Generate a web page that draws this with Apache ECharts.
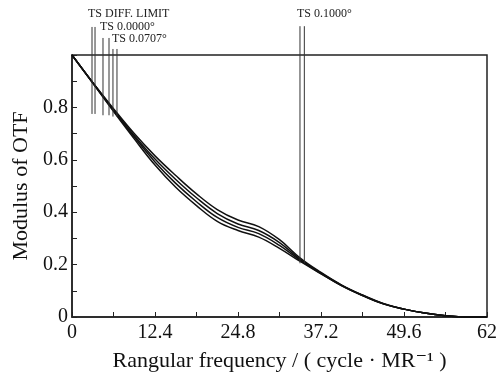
<!DOCTYPE html>
<html>
<head>
<meta charset="utf-8">
<script src="https://cdn.jsdelivr.net/npm/echarts@6/dist/echarts.min.js"></script>
<style>
html, body { margin: 0; padding: 0; background: #fff; }
#chart { width: 497px; height: 374px; }
</style>
</head>
<body>
<div id="chart"></div>
<script>
// spatial frequency samples (cycle / MR)
var freq = [0, 3.1, 6.2, 9.3, 12.4, 15.5, 18.6, 21.7, 24.8, 27.9, 31, 34.1, 37.2, 40.3, 43.4, 46.5, 49.6, 52.7, 55.8, 58.9, 62];
// OTF modulus, four curves (top to bottom)
var otfA = [1, 0.895, 0.795, 0.700, 0.615, 0.540, 0.470, 0.410, 0.370, 0.345, 0.295, 0.225, 0.170, 0.122, 0.084, 0.052, 0.030, 0.015, 0.005, 0, 0];
var otfB = [1, 0.894, 0.792, 0.693, 0.603, 0.525, 0.455, 0.395, 0.355, 0.330, 0.284, 0.220, 0.168, 0.121, 0.083, 0.051, 0.030, 0.015, 0.005, 0, 0];
var otfC = [1, 0.894, 0.788, 0.687, 0.592, 0.510, 0.440, 0.380, 0.342, 0.318, 0.273, 0.216, 0.166, 0.120, 0.082, 0.050, 0.030, 0.015, 0.005, 0, 0];
var otfD = [1, 0.893, 0.785, 0.680, 0.580, 0.495, 0.425, 0.365, 0.330, 0.305, 0.262, 0.212, 0.165, 0.119, 0.082, 0.050, 0.030, 0.015, 0.005, 0, 0];

// marker lines: x position, top and bottom (in modulus units)
var markerX = [2.99, 3.44, 4.63, 5.53, 6.12, 6.72, 34.06, 34.71];
var markerTop = [1.107, 1.107, 1.065, 1.065, 1.023, 1.023, 1.11, 1.11];
var markerBottom = [0.775, 0.775, 0.77, 0.77, 0.765, 0.765, 0.205, 0.205];

var xTickLabels = ['0', '12.4', '24.8', '37.2', '49.6', '62'];
var yTickLabels = ['0', '0.2', '0.4', '0.6', '0.8'];

var serif = '"Liberation Serif", "DejaVu Serif", serif';

var curves = [otfA, otfB, otfC, otfD].map(function (vals) {
  return {
    type: 'line',
    smooth: 0.4,
    symbol: 'none',
    lineStyle: { color: '#111', width: 1.5 },
    data: freq.map(function (f, i) { return [f, vals[i]]; })
  };
});

var markers = markerX.map(function (x, i) {
  return {
    type: 'line',
    symbol: 'none',
    clip: false,
    lineStyle: { color: '#333', width: 1 },
    data: [[x, markerTop[i]], [x, markerBottom[i]]]
  };
});

var dom = document.getElementById('chart');
var chart = echarts.init(dom, null, { renderer: 'canvas' });
var option = {
  animation: false,
  textStyle: { fontFamily: serif },
  grid: {
    left: 72, right: 10, top: 55, bottom: 57,
    outerBoundsMode: 'none', containLabel: false,
    show: true, borderColor: '#222', borderWidth: 1.5
  },
  xAxis: {
    type: 'value',
    min: 0, max: 62, interval: 6.2,
    name: 'Rangular frequency / ( cycle · MR\u207B\u00B9 )',
    nameLocation: 'middle', nameGap: 33,
    nameTextStyle: { fontFamily: serif, fontSize: 22, color: '#111' },
    axisLine: { lineStyle: { color: '#222', width: 1.5 } },
    axisTick: { inside: true, length: 5, lineStyle: { color: '#222' } },
    splitLine: { show: false },
    axisLabel: {
      fontFamily: serif, fontSize: 20, color: '#111', margin: 6,
      formatter: function (v) {
        var k = Math.round(v / 6.2);
        return k % 2 === 0 ? xTickLabels[k / 2] : '';
      }
    }
  },
  yAxis: {
    type: 'value',
    min: 0, max: 1, interval: 0.1,
    name: 'Modulus of OTF',
    nameLocation: 'middle', nameGap: 40,
    nameTextStyle: { fontFamily: serif, fontSize: 22, color: '#111' },
    axisLine: { show: true, lineStyle: { color: '#222', width: 1.5 } },
    axisTick: { show: true, inside: true, length: 5, lineStyle: { color: '#222' } },
    splitLine: { show: false },
    axisLabel: {
      fontFamily: serif, fontSize: 20, color: '#111', margin: 4,
      formatter: function (v) {
        var k = Math.round(v * 10);
        return (k % 2 === 0 && k < 10) ? yTickLabels[k / 2] : '';
      }
    }
  },
  graphic: [
    { type: 'text', left: 88, top: 8, style: { text: 'TS DIFF. LIMIT', font: '12px ' + serif, fill: '#222' } },
    { type: 'text', left: 100, top: 21, style: { text: 'TS 0.0000\u00B0', font: '12px ' + serif, fill: '#222' } },
    { type: 'text', left: 112, top: 33, style: { text: 'TS 0.0707\u00B0', font: '12px ' + serif, fill: '#222' } },
    { type: 'text', left: 297, top: 8, style: { text: 'TS 0.1000\u00B0', font: '12px ' + serif, fill: '#222' } }
  ],
  series: curves.concat(markers)
};
chart.setOption(option);
window.addEventListener('resize', function () { chart.resize(); });
</script>
</body>
</html>
